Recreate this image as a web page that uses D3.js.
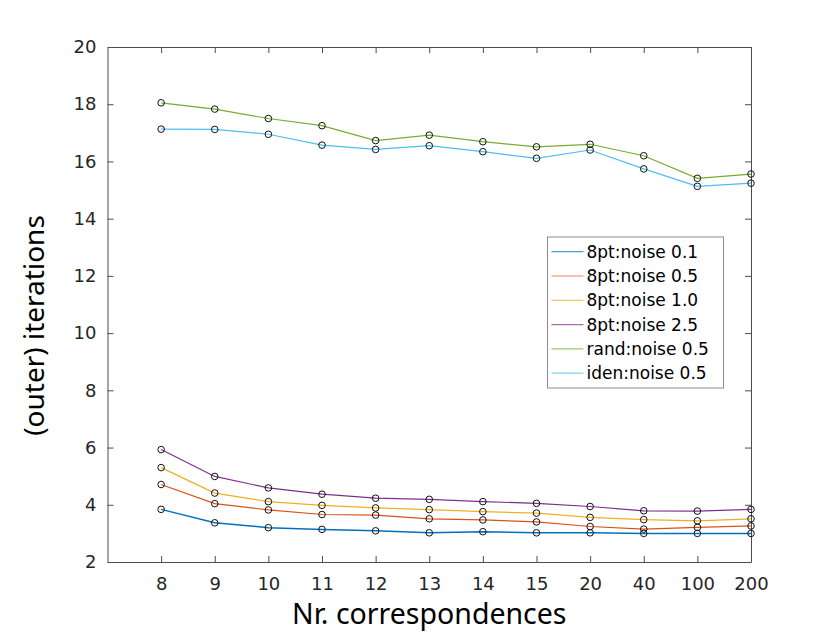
<!DOCTYPE html>
<html>
<head>
<meta charset="utf-8">
<script src="https://cdn.jsdelivr.net/npm/d3@7"></script>
<style>
  body { margin: 0; background: #fff; }
  svg { display: block; }
</style>
</head>
<body>
<div id="wrapper"></div>
<script>
// categories on the x axis (plotted at positions 1..12)
const categories = ["8", "9", "10", "11", "12", "13", "14", "15", "20", "40", "100", "200"]
const yTicks = [2, 4, 6, 8, 10, 12, 14, 16, 18, 20]

const seriesNames = [
  "8pt:noise 0.1", "8pt:noise 0.5", "8pt:noise 1.0",
  "8pt:noise 2.5", "rand:noise 0.5", "iden:noise 0.5",
]
const noise01 = [3.84, 3.37, 3.20, 3.14, 3.09, 3.02, 3.06, 3.02, 3.02, 3.00, 3.00, 3.00]
const noise05 = [4.71, 4.04, 3.82, 3.66, 3.64, 3.51, 3.47, 3.40, 3.24, 3.15, 3.21, 3.26]
const noise10 = [5.30, 4.41, 4.11, 3.98, 3.89, 3.83, 3.76, 3.71, 3.56, 3.48, 3.44, 3.51]
const noise25 = [5.93, 4.99, 4.59, 4.37, 4.23, 4.19, 4.11, 4.05, 3.94, 3.79, 3.78, 3.84]
const randNoise05 = [18.05, 17.83, 17.50, 17.25, 16.73, 16.92, 16.69, 16.51, 16.60, 16.20, 15.41, 15.56]
const idenNoise05 = [17.13, 17.12, 16.95, 16.57, 16.42, 16.55, 16.34, 16.11, 16.40, 15.74, 15.13, 15.24]
const seriesValues = [noise01, noise05, noise10, noise25, randNoise05, idenNoise05]

const colors = ["#0072BD", "#D95319", "#EDB120", "#7E2F8E", "#77AC30", "#4DBEEE"]

function drawChart() {
  const dimensions = {
    width: 830,
    height: 633,
    margin: { top: 47, right: 79, bottom: 71, left: 107.5 },
  }
  dimensions.boundedWidth = dimensions.width - dimensions.margin.left - dimensions.margin.right
  dimensions.boundedHeight = dimensions.height - dimensions.margin.top - dimensions.margin.bottom

  const wrapper = d3.select("#wrapper")
    .append("svg")
    .attr("width", dimensions.width)
    .attr("height", dimensions.height)

  const bounds = wrapper.append("g")
    .attr("transform", `translate(${dimensions.margin.left},${dimensions.margin.top})`)

  // scales
  const xScale = d3.scaleLinear()
    .domain([0, categories.length])
    .range([0, dimensions.boundedWidth])

  const yScale = d3.scaleLinear()
    .domain([2, 20])
    .range([dimensions.boundedHeight, 0])

  const tickFont = "'DejaVu Sans', sans-serif"
  const axisColor = "#262626"

  // axes (MATLAB-like box with inward ticks)
  const xIdx = categories.map((d, i) => i + 1)
  const xAxisBottom = bounds.append("g")
    .attr("transform", `translate(0,${dimensions.boundedHeight})`)
    .call(d3.axisBottom(xScale).tickValues(xIdx)
      .tickFormat(d => categories[d - 1]).tickSizeInner(-6).tickSizeOuter(0))
  const xAxisTop = bounds.append("g")
    .call(d3.axisTop(xScale).tickValues(xIdx)
      .tickFormat("").tickSizeInner(-6).tickSizeOuter(0))
  const yAxisLeft = bounds.append("g")
    .call(d3.axisLeft(yScale).tickValues(yTicks)
      .tickSizeInner(-6).tickSizeOuter(0).tickPadding(11))
  const yAxisRight = bounds.append("g")
    .attr("transform", `translate(${dimensions.boundedWidth},0)`)
    .call(d3.axisRight(yScale).tickValues(yTicks)
      .tickFormat("").tickSizeInner(-6).tickSizeOuter(0))

  ;[xAxisBottom, xAxisTop, yAxisLeft, yAxisRight].forEach(ax => {
    ax.select(".domain").attr("stroke", "#4d4d4d").attr("stroke-width", 1)
    ax.selectAll(".tick line").attr("stroke", "#4d4d4d").attr("stroke-width", 1)
    ax.selectAll(".tick text")
      .attr("fill", axisColor)
      .style("font-family", tickFont)
      .style("font-size", "18px")
  })
  xAxisBottom.selectAll(".tick text").attr("dy", "0.73em").attr("y", 15)

  // lines
  const lineGenerator = d3.line()
    .x((d, i) => xScale(i + 1))
    .y(d => yScale(d))

  bounds.selectAll(".series")
    .data(seriesValues)
    .join("path")
    .attr("class", "series")
    .attr("d", lineGenerator)
    .attr("fill", "none")
    .attr("stroke", (d, i) => colors[i])
    .attr("stroke-width", (d, i) => i === 0 ? 1.5 : 1.2)

  // circle markers
  seriesValues.forEach(values => {
    bounds.append("g")
      .selectAll("circle")
      .data(values)
      .join("circle")
      .attr("cx", (d, i) => xScale(i + 1))
      .attr("cy", d => yScale(d))
      .attr("r", 3.3)
      .attr("fill", "none")
      .attr("stroke", "#111")
      .attr("stroke-width", 1)
  })

  // axis labels
  const labelFont = "'Noto Sans', 'Open Sans', sans-serif"
  wrapper.append("text")
    .attr("x", dimensions.margin.left + dimensions.boundedWidth / 2)
    .attr("y", 624)
    .attr("text-anchor", "middle")
    .attr("fill", "#000")
    .style("font-family", labelFont)
    .style("font-size", "28.5px")
    .text("Nr. correspondences")

  wrapper.append("text")
    .attr("transform", `translate(44,${dimensions.margin.top + dimensions.boundedHeight / 2 + 21}) rotate(-90)`)
    .attr("text-anchor", "middle")
    .attr("fill", "#000")
    .style("font-family", labelFont)
    .style("font-size", "28px")
    .text("(outer) iterations")

  // legend
  const legendX = 547.5
  const legendY = 237
  const legendW = 176
  const rowH = 24.3
  const legend = wrapper.append("g")
    .attr("transform", `translate(${legendX},${legendY})`)
  legend.append("rect")
    .attr("width", legendW)
    .attr("height", 151)
    .attr("fill", "#fff")
    .attr("stroke", "#8c8c8c")
    .attr("stroke-width", 1)
  const rows = legend.selectAll(".row")
    .data(seriesNames)
    .join("g")
    .attr("class", "row")
    .attr("transform", (d, i) => `translate(0,${14.7 + i * rowH})`)
  rows.append("line")
    .attr("x1", 4)
    .attr("x2", 36)
    .attr("stroke", (d, i) => colors[i])
    .attr("stroke-opacity", 0.7)
    .attr("stroke-width", 1.2)
  rows.append("text")
    .attr("x", 39)
    .attr("y", 6)
    .attr("fill", "#000")
    .style("font-family", tickFont)
    .style("font-size", "17px")
    .text(d => d)
}
drawChart()
</script>
</body>
</html>
